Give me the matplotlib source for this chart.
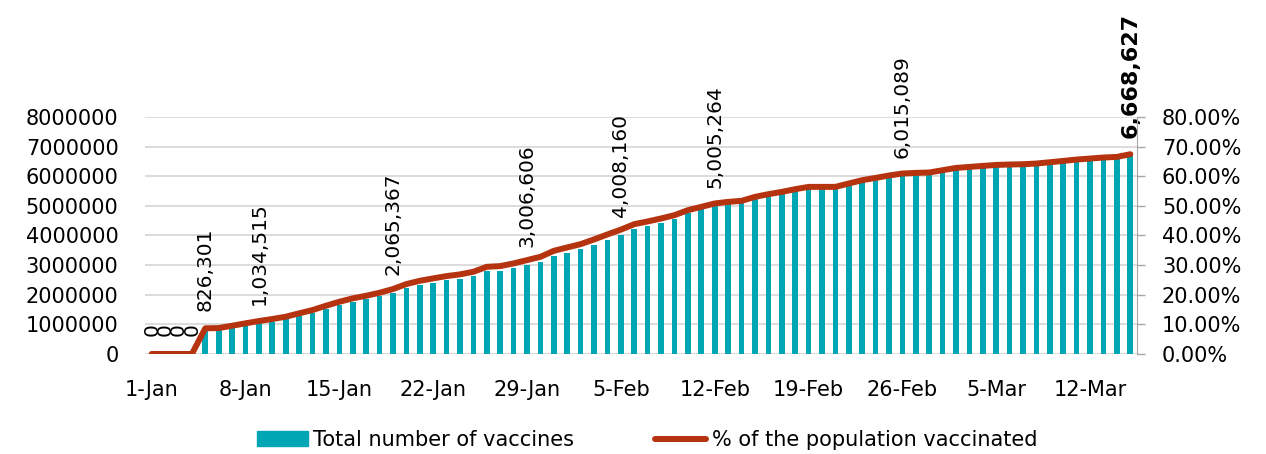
import matplotlib.pyplot as plt
import numpy as np
import pandas as pd
from matplotlib.ticker import MultipleLocator, FuncFormatter
from matplotlib.patches import Patch
from matplotlib.lines import Line2D

# daily categories, 1-Jan to 15-Mar
days = pd.date_range('2021-01-01', '2021-03-15')

# cumulative number of vaccine doses
total = [0, 0, 0, 0, 826301, 835000, 900000, 970000, 1034515, 1095000,
         1168000, 1277000, 1383000, 1523000, 1653000, 1763000, 1846000, 1944000, 2065367, 2230000,
         2336000, 2412000, 2487000, 2541000, 2625000, 2790000, 2811000, 2898000, 3006606, 3115000,
         3313000, 3422000, 3529000, 3682000, 3846000, 4008160, 4208000, 4314000, 4435000, 4566000,
         4755000, 4881000, 5005264, 5058000, 5092000, 5226000, 5317000, 5395000, 5486000, 5564000,
         5570000, 5575000, 5678000, 5790000, 5867000, 5948000, 6015089, 6036000, 6049000, 6127000,
         6204000, 6238000, 6272000, 6305000, 6319000, 6329000, 6352000, 6396000, 6440000, 6487000,
         6521000, 6555000, 6575000, 6668627]

# % of the population vaccinated
pct = [0, 0, 0, 0, 8.67, 8.75, 9.54, 10.35, 11.13, 11.80,
       12.58, 13.72, 14.83, 16.28, 17.63, 18.78, 19.66, 20.67, 21.92, 23.60,
       24.71, 25.52, 26.30, 26.87, 27.75, 29.43, 29.67, 30.58, 31.69, 32.80,
       34.83, 35.97, 37.09, 38.67, 40.36, 41.98, 43.83, 44.74, 45.75, 46.86,
       48.55, 49.66, 50.81, 51.35, 51.69, 53.03, 53.94, 54.72, 55.63, 56.41,
       56.41, 56.41, 57.55, 58.67, 59.44, 60.25, 60.92, 61.13, 61.26, 62.04,
       62.81, 63.15, 63.49, 63.82, 63.96, 64.06, 64.29, 64.73, 65.17, 65.64,
       65.98, 66.32, 66.52, 67.43]

# which bars carry a value label
labelled = [0, 1, 2, 3, 4, 8, 18, 28, 35, 42, 56, 73]

tick_pos = [0, 7, 14, 21, 28, 35, 42, 49, 56, 63, 70]
tick_labels = ['1-Jan', '8-Jan', '15-Jan', '22-Jan', '29-Jan', '5-Feb',
               '12-Feb', '19-Feb', '26-Feb', '5-Mar', '12-Mar']

TEAL = '#00A6B4'
RED = '#B5330F'
GRID = '#D9D9D9'

plt.rcParams['font.family'] = ['DejaVu Sans']

fig = plt.figure(figsize=(12.66, 4.54), dpi=100)
ax = fig.add_axes([0.1145, 0.2203, 0.7836, 0.522])
x = np.arange(len(days))

ax.bar(x, total, width=0.42, color=TEAL, zorder=2)
ax.set_xlim(-0.5, len(days) - 0.5)
ax.set_ylim(0, 8e6)
ax.yaxis.set_major_locator(MultipleLocator(1e6))
ax.yaxis.set_major_formatter(FuncFormatter(lambda v, p: f'{int(v)}'))
ax.grid(axis='y', color=GRID, lw=1.3, zorder=0)
ax.set_axisbelow(True)
ax.set_xticks(tick_pos)
ax.set_xticklabels(tick_labels)
ax.tick_params(axis='x', length=0, pad=19, labelsize=15)
ax.tick_params(axis='y', length=0, pad=19, labelsize=15)
for s in ax.spines.values():
    s.set_visible(False)

# value labels above selected bars
for i in labelled:
    last = i == len(days) - 1
    ax.annotate(f'{total[i]:,}', (x[i], total[i]), xytext=(0, 13),
                textcoords='offset points', ha='center', va='bottom',
                rotation=90, fontsize=16 if last else 14.5,
                fontweight='bold' if last else 'normal', annotation_clip=False)

ax2 = ax.twinx()
ax2.plot(x, pct, color=RED, lw=4.3, solid_capstyle='round', solid_joinstyle='round')
ax2.set_ylim(0, 80)
ax2.yaxis.set_major_locator(MultipleLocator(10))
ax2.yaxis.set_major_formatter(FuncFormatter(lambda v, p: f'{v:.2f}%'))
ax2.tick_params(axis='y', length=6, width=1, color='#A6A6A6', pad=12, labelsize=15)
for k, s in ax2.spines.items():
    s.set_visible(k == 'right')
ax2.spines['right'].set_color('#A6A6A6')

handles = [Patch(color=TEAL),
           Line2D([], [], color=RED, lw=4.3, solid_capstyle='round')]
fig.legend(handles, ['Total number of vaccines', '% of the population vaccinated'],
           loc='center', bbox_to_anchor=(0.511, 0.031), ncol=2, frameon=False,
           fontsize=15, handlelength=2.45, handleheight=0.7, handletextpad=0.25,
           columnspacing=3.9)

fig.savefig('out.png', dpi=100)
